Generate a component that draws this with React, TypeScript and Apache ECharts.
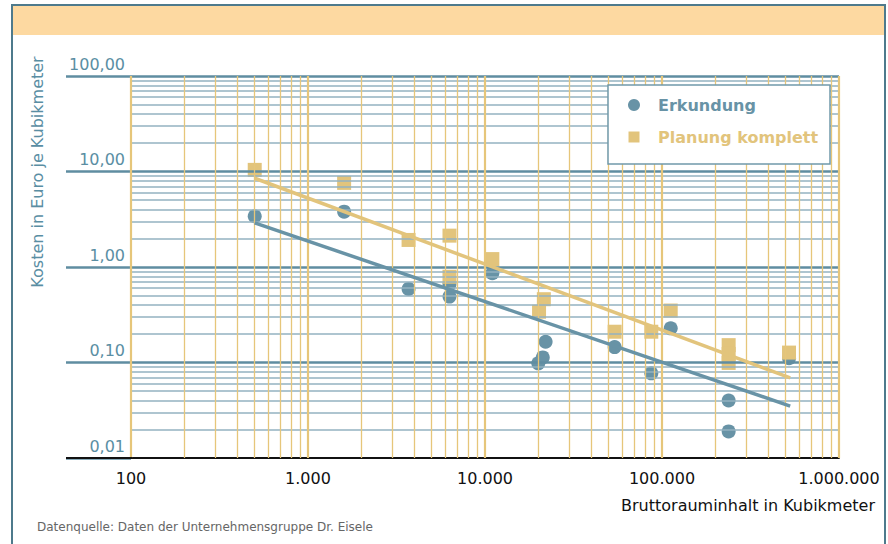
import React, { useEffect, useRef } from "react";
import * as echarts from "echarts";

// ---- data ----
const erkundungX = [500, 1600, 3700, 6300, 6300, 11000, 20000, 21200, 22000, 54000, 87000, 112000, 238000, 238000, 522000];
const erkundungY = [3.4, 3.8, 0.59, 0.49, 0.66, 0.86, 0.098, 0.113, 0.165, 0.145, 0.077, 0.228, 0.04, 0.019, 0.111];

const planungX = [500, 1600, 3700, 6300, 6300, 11000, 20200, 21500, 54000, 87000, 112000, 238000, 238000, 238000, 522000];
const planungY = [10.4, 7.6, 1.92, 2.13, 0.79, 1.21, 0.34, 0.46, 0.21, 0.21, 0.35, 0.152, 0.123, 0.099, 0.127];

const erkundungTrendX = [500, 530000];
const erkundungTrendY = [2.9, 0.035];
const planungTrendX = [500, 530000];
const planungTrendY = [8.5, 0.069];

const xDecades = [100, 1000, 10000, 100000, 1000000];
const yDecades = [0.01, 0.1, 1, 10, 100];
const minorSteps = [2, 3, 4, 5, 6, 7, 8, 9];

const seriesNames = ["Erkundung", "Planung komplett"];
const xAxisTitle = "Bruttorauminhalt in Kubikmeter";
const yAxisTitle = "Kosten in Euro je Kubikmeter";
const sourceNote = "Datenquelle: Daten der Unternehmensgruppe Dr. Eisele";

// ---- styles ----
const BLUE = "#6893a6";
const GOLD = "#e2c47c";
const GRID_BLUE_MAJOR = "#5f8da1";
const GRID_BLUE_MINOR = "#93b2c0";
const GRID_GOLD = "#e6c67a";
const LABEL_BLUE = "#5a8ea3";
const FONT = "'DejaVu Sans', 'Liberation Sans', sans-serif";

const fmtX = (v: number) =>
  String(Math.round(v)).replace(/\B(?=(\d{3})+(?!\d))/g, ".");
const fmtY = (v: number) => v.toFixed(2).replace(".", ",");

const zip = (xs: number[], ys: number[]) => xs.map((x, i) => [x, ys[i]]);

export default function App() {
  const ref = useRef<HTMLDivElement>(null);

  useEffect(() => {
    document.body.style.margin = "0";
    if (!ref.current) return;
    const chart = echarts.init(ref.current, undefined, { renderer: "svg" });

    const hLines: any[] = [];
    yDecades.forEach((d, i) => {
      if (i > 0) hLines.push({ yAxis: d, lineStyle: { color: GRID_BLUE_MAJOR, width: 2.5 } });
      if (i < yDecades.length - 1)
        minorSteps.forEach((m) => hLines.push({ yAxis: +(d * m).toPrecision(6) }));
    });
    const vLines: any[] = [];
    xDecades.forEach((d, i) => {
      vLines.push({ xAxis: d, lineStyle: { color: GRID_GOLD, width: 2.2 } });
      if (i < xDecades.length - 1)
        minorSteps.forEach((m) => vLines.push({ xAxis: d * m }));
    });

    const textStyleCommon = (align: string) => ({
      align,
      verticalAlign: "middle",
      textAlign: align,
      textVerticalAlign: "middle",
    });

    const option: any = {
      animation: false,
      textStyle: { fontFamily: FONT },
      grid: { left: 131, right: 49, top: 76, bottom: 86, containLabel: false },
      xAxis: {
        type: "log",
        logBase: 10,
        min: 100,
        max: 1000000,
        axisLine: { show: true, lineStyle: { color: "#111", width: 1.8 } },
        axisTick: { show: false },
        splitLine: { show: false },
        axisLabel: {
          formatter: fmtX,
          color: "#111",
          fontSize: 16,
          fontFamily: FONT,
          margin: 12,
        },
      },
      yAxis: {
        type: "log",
        logBase: 10,
        min: 0.01,
        max: 100,
        axisLine: { show: false },
        axisTick: {
          show: true,
          length: 65,
          lineStyle: { color: GRID_BLUE_MAJOR, width: 2.5 },
        },
        splitLine: { show: false },
        axisLabel: {
          formatter: fmtY,
          color: LABEL_BLUE,
          fontSize: 16,
          fontFamily: FONT,
          margin: 6,
          verticalAlign: "bottom",
          padding: [0, 0, 4, 0],
        },
      },
      series: [
        {
          name: "hgrid",
          type: "line",
          data: [],
          silent: true,
          z: 1,
          markLine: {
            silent: true,
            symbol: ["none", "none"],
            label: { show: false },
            lineStyle: { type: "solid", color: GRID_BLUE_MINOR, width: 1.5 },
            data: hLines,
          },
        },
        {
          name: "vgrid",
          type: "line",
          data: [],
          silent: true,
          z: 2,
          markLine: {
            silent: true,
            symbol: ["none", "none"],
            label: { show: false },
            lineStyle: { type: "solid", color: GRID_GOLD, width: 1.3 },
            data: vLines,
          },
        },
        {
          name: seriesNames[0],
          type: "scatter",
          symbol: "circle",
          symbolSize: 14,
          itemStyle: { color: BLUE, opacity: 1 },
          z: 3,
          data: zip(erkundungX, erkundungY),
        },
        {
          name: seriesNames[1],
          type: "scatter",
          symbol: "rect",
          symbolSize: 14,
          itemStyle: { color: GOLD, opacity: 1 },
          z: 4,
          data: zip(planungX, planungY),
        },
        {
          name: seriesNames[0] + " Trend",
          type: "line",
          showSymbol: false,
          symbol: "none",
          lineStyle: { color: BLUE, width: 3.5 },
          z: 5,
          data: zip(erkundungTrendX, erkundungTrendY),
        },
        {
          name: seriesNames[1] + " Trend",
          type: "line",
          showSymbol: false,
          symbol: "none",
          lineStyle: { color: GOLD, width: 3.5 },
          z: 5,
          data: zip(planungTrendX, planungTrendY),
        },
      ],
      graphic: [
        {
          type: "rect",
          z: 0,
          shape: { x: 13, y: 6, width: 871, height: 29 },
          style: { fill: "#fdd9a1" },
        },
        {
          type: "rect",
          z: 0,
          shape: { x: 12, y: 5, width: 873, height: 600 },
          style: { fill: "none", stroke: "#4e7a8c", lineWidth: 2 },
        },
        {
          type: "line",
          z: 10,
          shape: { x1: 66, y1: 458, x2: 132, y2: 458 },
          style: { stroke: "#111", lineWidth: 1.8 },
        },
        {
          type: "text",
          z: 10,
          x: 37,
          y: 172,
          rotation: Math.PI / 2,
          style: {
            text: yAxisTitle,
            fill: LABEL_BLUE,
            fontSize: 16,
            fontFamily: FONT,
            ...textStyleCommon("center"),
          },
        },
        {
          type: "text",
          z: 10,
          x: 875,
          y: 505,
          style: {
            text: xAxisTitle,
            fill: "#111",
            fontSize: 16,
            fontFamily: FONT,
            ...textStyleCommon("right"),
          },
        },
        {
          type: "text",
          z: 10,
          x: 37,
          y: 527,
          style: {
            text: sourceNote,
            fill: "#666",
            fontSize: 12,
            fontFamily: FONT,
            ...textStyleCommon("left"),
          },
        },
        {
          type: "group",
          z: 20,
          children: [
            {
              type: "rect",
              z: 20,
              shape: { x: 608, y: 85, width: 222, height: 79 },
              style: { fill: "#fff", stroke: "#7099aa", lineWidth: 1.5 },
            },
            {
              type: "circle",
              z: 21,
              shape: { cx: 634, cy: 105, r: 6 },
              style: { fill: BLUE },
            },
            {
              type: "rect",
              z: 21,
              shape: { x: 628.5, y: 131.5, width: 11, height: 11 },
              style: { fill: GOLD },
            },
            {
              type: "text",
              z: 21,
              x: 658,
              y: 105,
              style: {
                text: seriesNames[0],
                fill: BLUE,
                fontSize: 16,
                fontWeight: "bold",
                fontFamily: FONT,
                ...textStyleCommon("left"),
              },
            },
            {
              type: "text",
              z: 21,
              x: 658,
              y: 137,
              style: {
                text: seriesNames[1],
                fill: GOLD,
                fontSize: 16,
                fontWeight: "bold",
                fontFamily: FONT,
                ...textStyleCommon("left"),
              },
            },
          ],
        },
      ],
    };

    chart.setOption(option);
    return () => chart.dispose();
  }, []);

  return <div ref={ref} style={{ width: 888, height: 544 }} />;
}
